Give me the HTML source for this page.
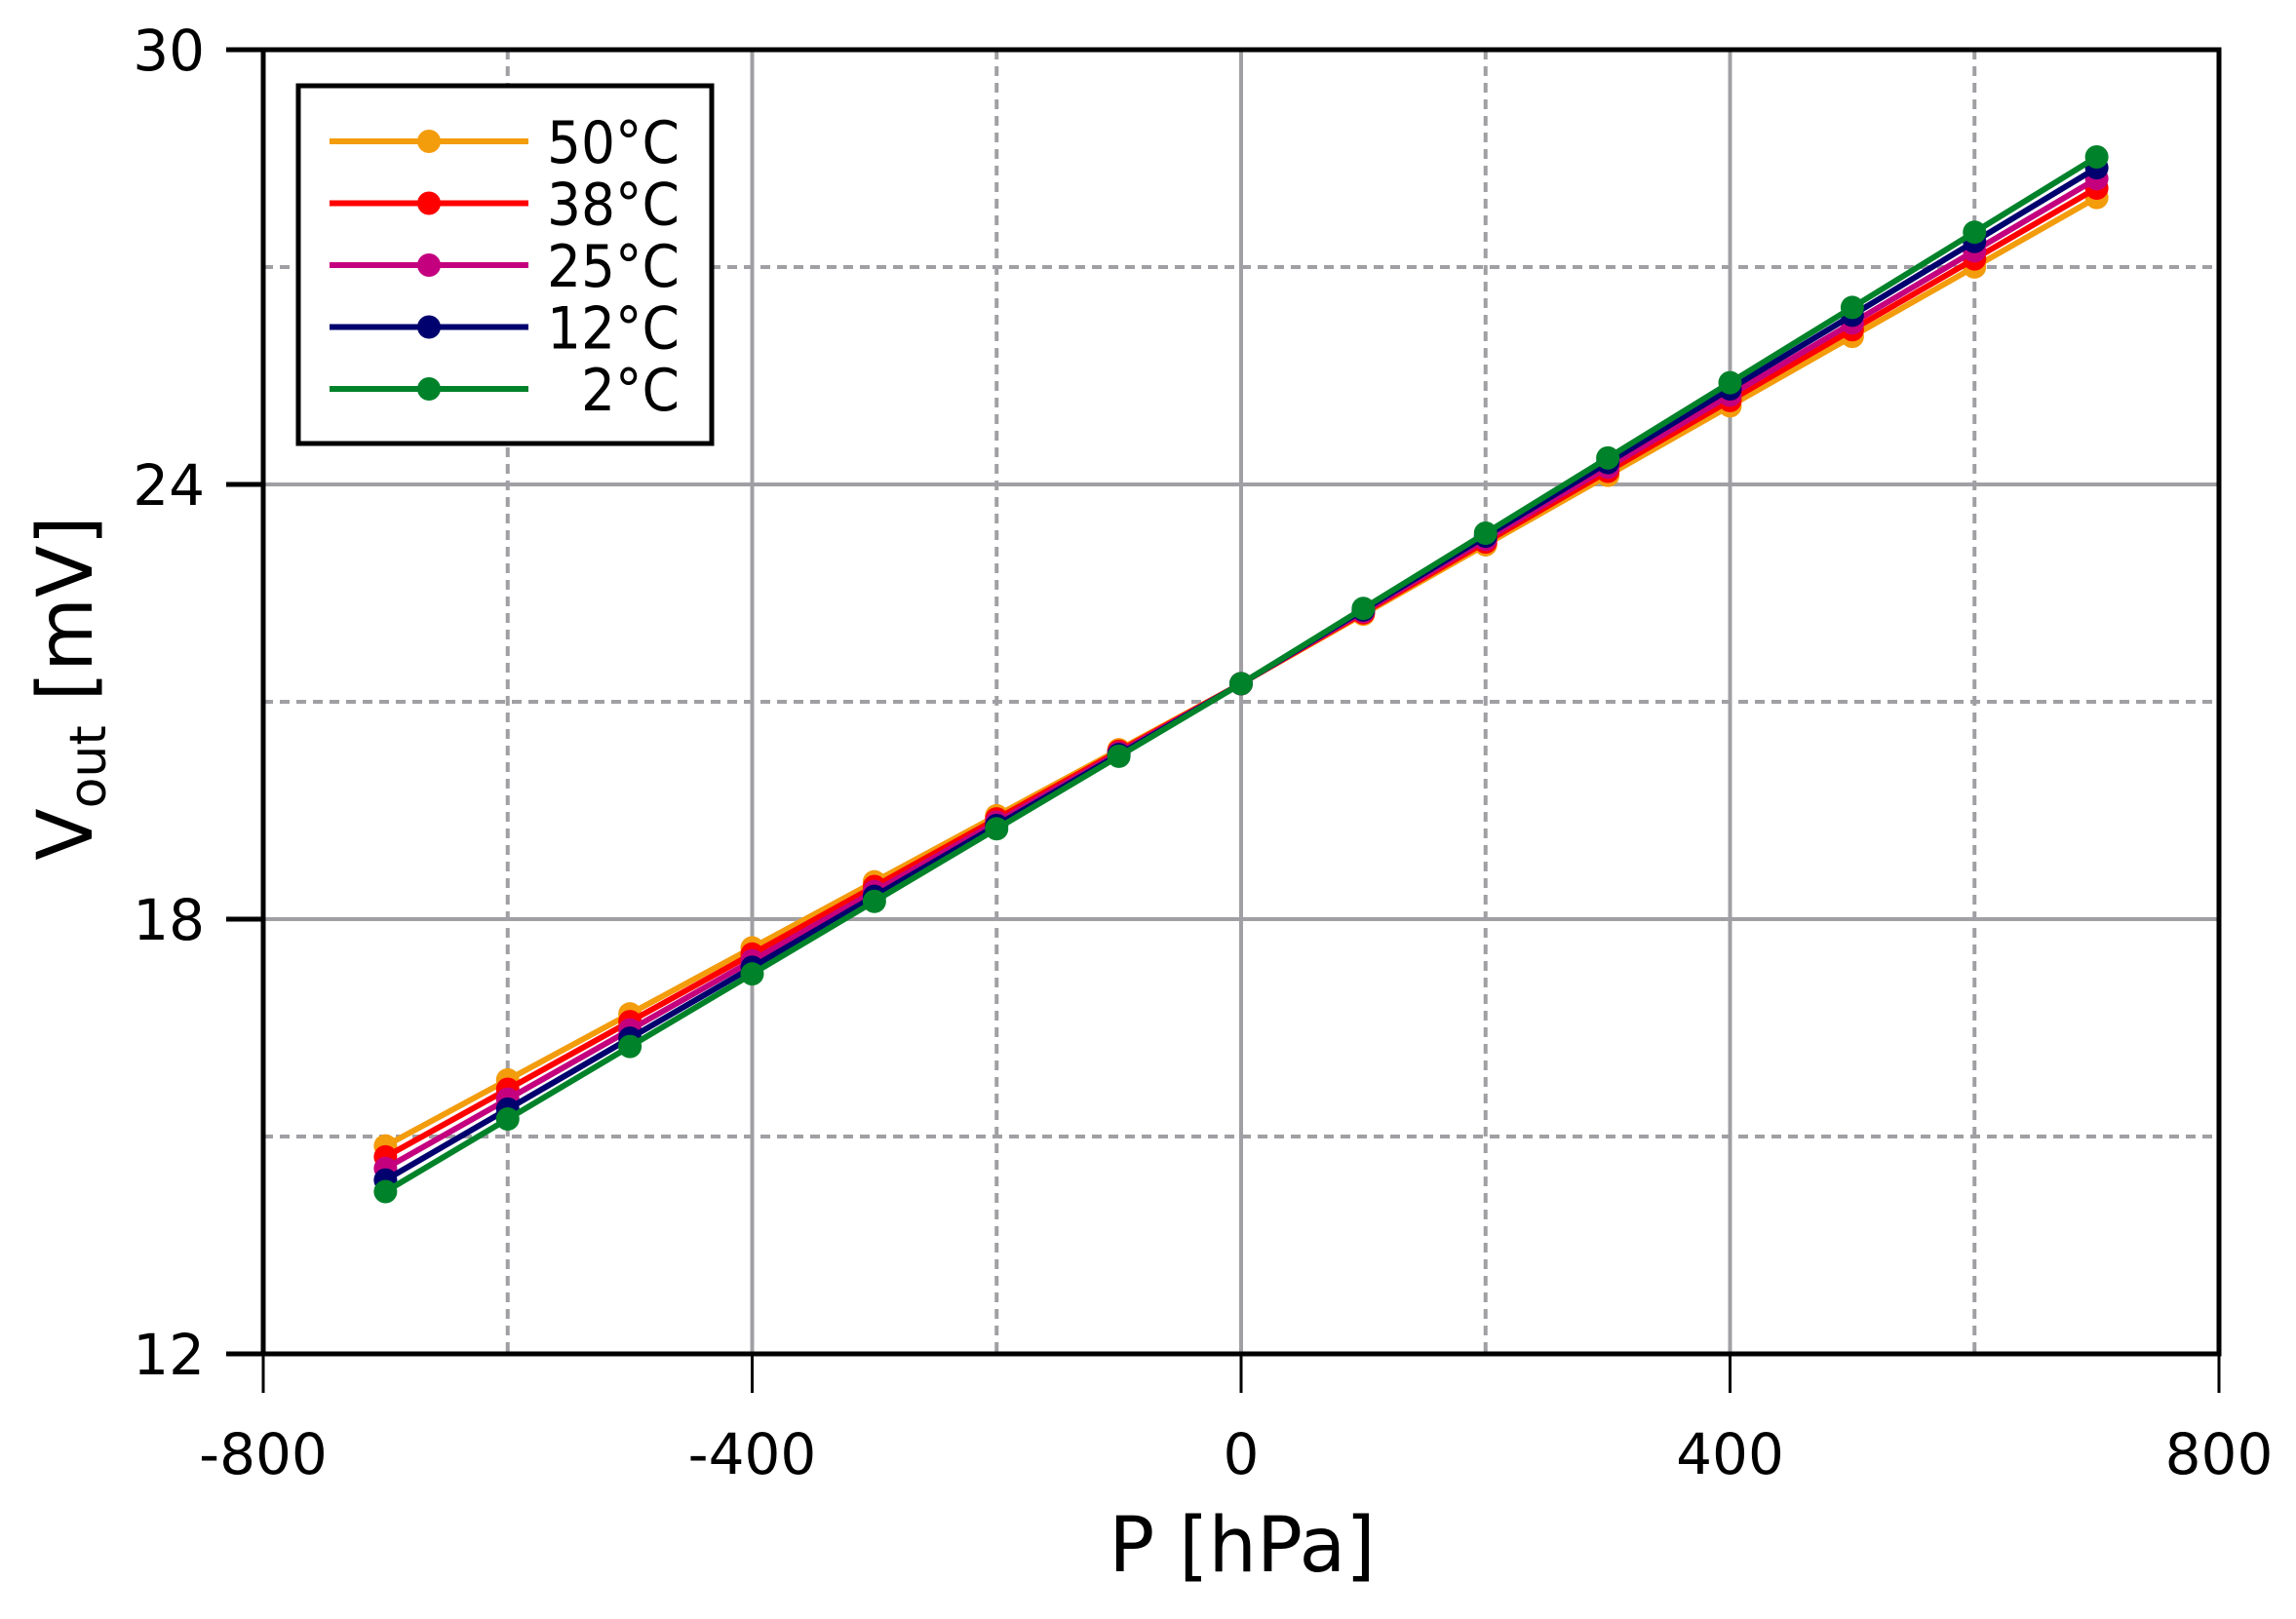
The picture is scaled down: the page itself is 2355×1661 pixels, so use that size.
<!DOCTYPE html>
<html><head><meta charset="utf-8"><style>
html,body{margin:0;padding:0;background:#fff;}
svg{display:block;font-family:"DejaVu Sans","Liberation Sans",sans-serif;}
</style></head><body>
<svg id="s" width="2355" height="1661" viewBox="0 0 2355 1661" xmlns="http://www.w3.org/2000/svg">
<rect width="2355" height="1661" fill="#fff"/>
<g id="grid"></g>
<g id="data"></g>
<g id="axes" stroke="#000" fill="none">
<rect x="270" y="51" width="2006" height="1338" stroke-width="5"/>
<line x1="232" y1="51" x2="270" y2="51" stroke-width="5"/>
<line x1="232" y1="497" x2="270" y2="497" stroke-width="5"/>
<line x1="232" y1="943" x2="270" y2="943" stroke-width="5"/>
<line x1="232" y1="1389" x2="270" y2="1389" stroke-width="5"/>
<line x1="270" y1="1389" x2="270" y2="1429" stroke-width="3"/>
<line x1="771.5" y1="1389" x2="771.5" y2="1429" stroke-width="3"/>
<line x1="1273" y1="1389" x2="1273" y2="1429" stroke-width="3"/>
<line x1="1774.5" y1="1389" x2="1774.5" y2="1429" stroke-width="3"/>
<line x1="2276" y1="1389" x2="2276" y2="1429" stroke-width="3"/>
</g>
<g font-size="58" fill="#000" text-anchor="end">
<text x="210" y="72">30</text>
<text x="210" y="518">24</text>
<text x="210" y="964">18</text>
<text x="210" y="1410">12</text>
</g>
<g font-size="58" fill="#000" text-anchor="middle">
<text x="270" y="1512">-800</text>
<text x="771.5" y="1512">-400</text>
<text x="1273" y="1512">0</text>
<text x="1774.5" y="1512">400</text>
<text x="2276" y="1512">800</text>
</g>
<text x="1274" y="1612" font-size="78" text-anchor="middle" fill="#000">P [hPa]</text>
<text transform="translate(94,706) rotate(-90)" font-size="78" text-anchor="middle" fill="#000">V<tspan font-size="52" dy="14">out</tspan><tspan dy="-14"> [mV]</tspan></text>
<g id="legend">
<rect x="306" y="88" width="424" height="367" fill="#fff" stroke="#000" stroke-width="5"/>
</g>
</svg>
<script>
const NS="http://www.w3.org/2000/svg";
function el(t,a,p){const e=document.createElementNS(NS,t);for(const k in a)e.setAttribute(k,a[k]);p.appendChild(e);return e;}
const X=p=>270+(p+800)*2006/1600, Y=v=>51+(30-v)*1338/18;
const g=document.getElementById('grid');
[-600,-200,200,600].forEach(p=>el('line',{x1:X(p),y1:51,x2:X(p),y2:1389,stroke:'#a0a0a4','stroke-width':4,'stroke-dasharray':'10 7'},g));
[15,21,27].forEach(v=>el('line',{x1:270,y1:Y(v),x2:2276,y2:Y(v),stroke:'#a0a0a4','stroke-width':4,'stroke-dasharray':'10 7'},g));
[-400,0,400].forEach(p=>el('line',{x1:X(p),y1:51,x2:X(p),y2:1389,stroke:'#a0a0a4','stroke-width':4},g));
[18,24].forEach(v=>el('line',{x1:270,y1:Y(v),x2:2276,y2:Y(v),stroke:'#a0a0a4','stroke-width':4},g));
const S=[['#f39c0c',14.87,27.96,'50°C',561],['#ff0000',14.72,28.09,'38°C',561],['#c4007f',14.56,28.22,'25°C',561],['#00006e',14.40,28.37,'12°C',561],['#00822a',14.24,28.52,'2°C',596]];
const d=document.getElementById('data');
S.forEach(s=>{const pts=[];for(let p=-700;p<=700;p+=100){const v=p<0?21.25+(21.25-s[1])*p/700:21.25+(s[2]-21.25)*p/700;pts.push([X(p),Y(v)]);}
el('polyline',{points:pts.map(a=>a.join(',')).join(' '),fill:'none',stroke:s[0],'stroke-width':6},d);
pts.forEach(a=>el('circle',{cx:a[0],cy:a[1],r:12,fill:s[0]},d));});
const L=document.getElementById('legend');
S.forEach((s,i)=>{const y=145+i*63.5;el('line',{x1:338,y1:y,x2:542,y2:y,stroke:s[0],'stroke-width':6},L);el('circle',{cx:440,cy:y,r:12,fill:s[0]},L);
const t=el('text',{x:s[4],y:y+22,'font-size':60,fill:'#000',textLength:697-s[4],lengthAdjust:'spacingAndGlyphs'},L);t.textContent=s[3];});
</script>
</body></html>
